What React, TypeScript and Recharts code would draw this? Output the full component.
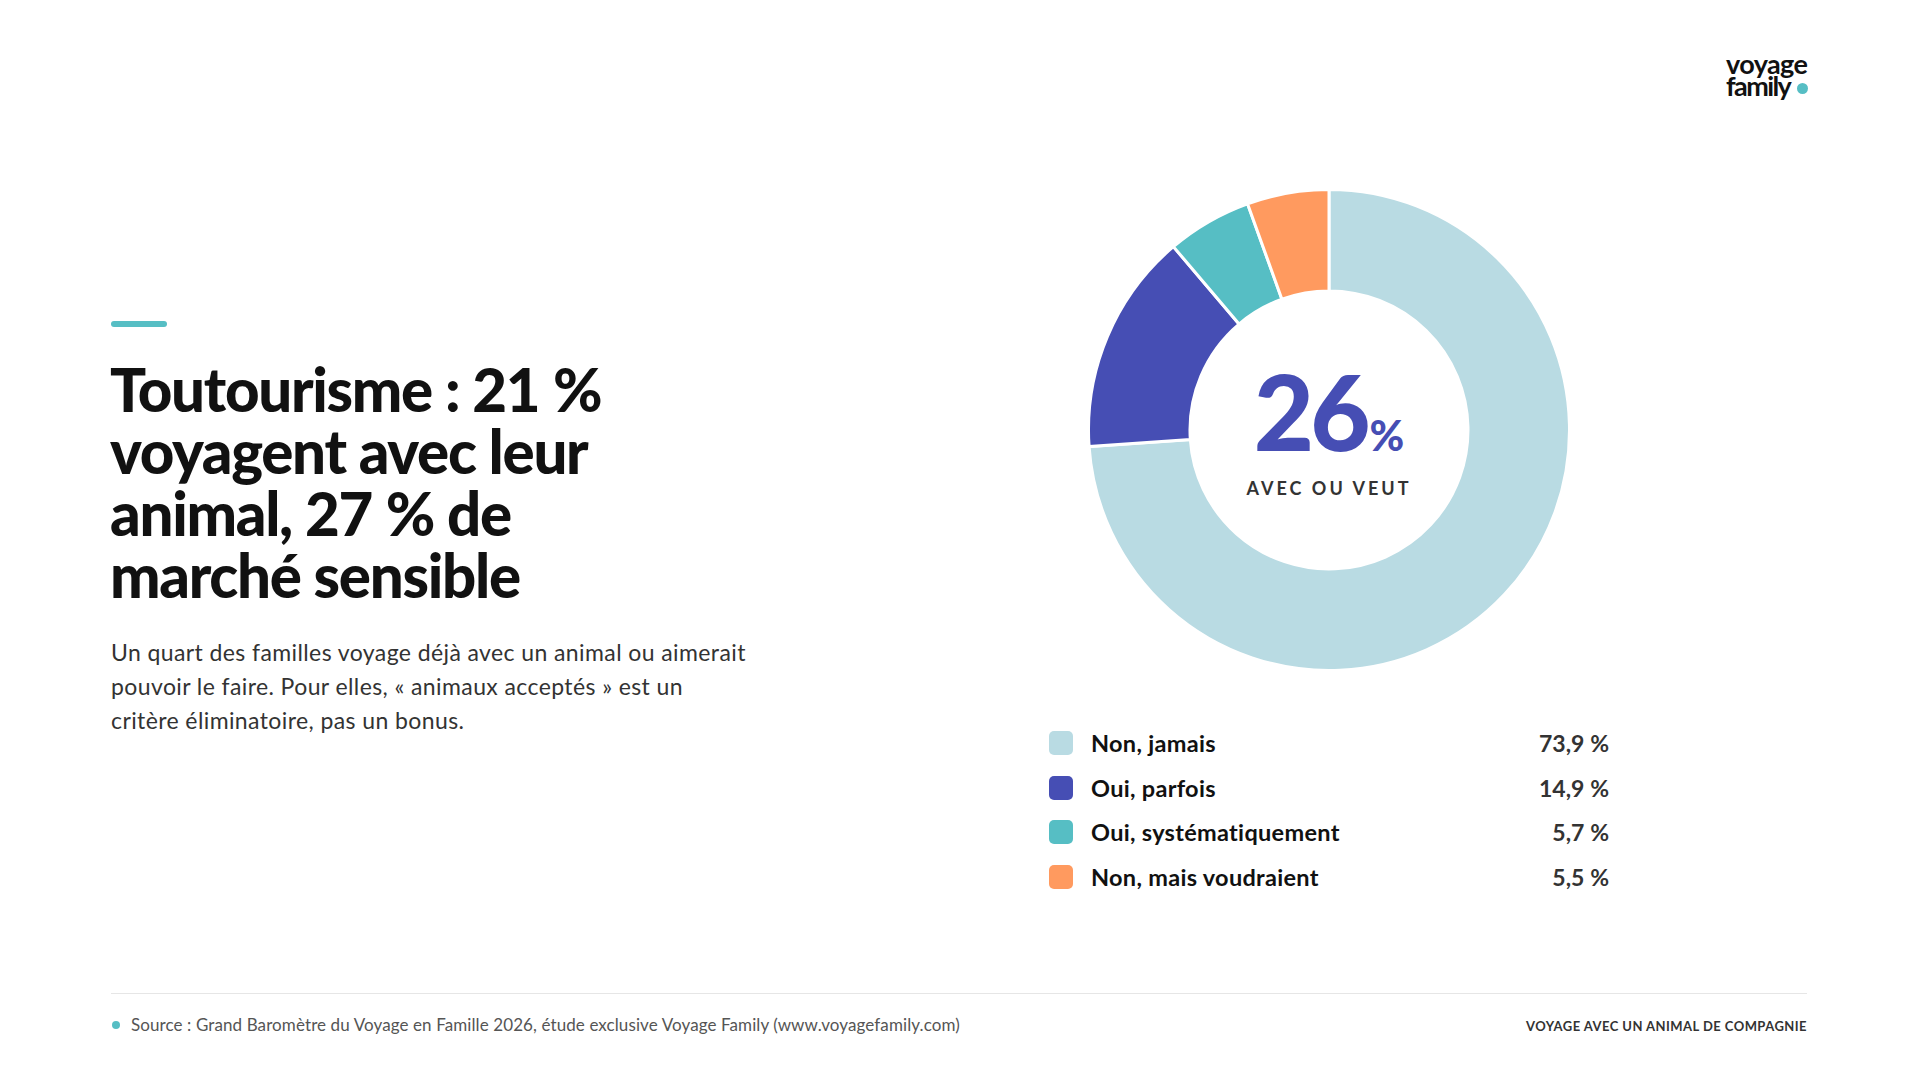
import React from "react";
import { PieChart, Pie, Cell } from "recharts";

const categories = ["Non, jamais", "Oui, parfois", "Oui, systématiquement", "Non, mais voudraient"];
const values = [73.9, 14.9, 5.7, 5.5];
const valueLabels = ["73,9\u202F%", "14,9\u202F%", "5,7\u202F%", "5,5\u202F%"];
const colors = ["#B9DBE3", "#464EB4", "#56BEC4", "#FF9A5F"];
const centerValue = "26";
const centerCaption = "AVEC OU VEUT";
const titleLines = ["Toutourisme\u00A0: 21\u202F%", "voyagent avec leur", "animal, 27\u202F% de", "marché sensible"];
const bodyLines = [
  "Un quart des familles voyage déjà avec un animal ou aimerait",
  "pouvoir le faire. Pour elles, « animaux acceptés » est un",
  "critère éliminatoire, pas un bonus.",
];
const sourceText = "Source : Grand Baromètre du Voyage en Famille 2026, étude exclusive Voyage Family (www.voyagefamily.com)";
const footerRight = "VOYAGE AVEC UN ANIMAL DE COMPAGNIE";

const data = categories.map((name, i) => ({ name, value: values[i] }));

const FONT = "Lato, 'Noto Sans', sans-serif";

export default function App() {
  return (
    <div
      style={{
        position: "absolute",
        left: 0,
        top: 0,
        width: 1920,
        height: 1080,
        background: "#fff",
        fontFamily: FONT,
        overflow: "hidden",
      }}
    >
      {/* Logo */}
      <div
        style={{
          position: "absolute",
          left: 1726,
          top: 53,
          fontSize: 27,
          fontWeight: 700,
          lineHeight: "22px",
          color: "#111",
          letterSpacing: -0.6,
        }}
      >
        <div>voyage</div>
        <div style={{ letterSpacing: -1.6 }}>family</div>
      </div>
      <div
        style={{
          position: "absolute",
          left: 1797,
          top: 83,
          width: 11,
          height: 11,
          borderRadius: 6,
          background: "#56BEC4",
        }}
      />

      {/* Accent bar */}
      <div
        style={{
          position: "absolute",
          left: 111,
          top: 321,
          width: 56,
          height: 6,
          borderRadius: 3,
          background: "#56BEC4",
        }}
      />

      {/* Title */}
      <div
        style={{
          position: "absolute",
          left: 110,
          top: 358,
          fontSize: 60,
          fontWeight: 900,
          lineHeight: "62px",
          color: "#111",
          letterSpacing: -1.3,
          whiteSpace: "nowrap",
        }}
      >
        {titleLines.map((l, i) => (
          <div key={i}>{l}</div>
        ))}
      </div>

      {/* Body */}
      <div
        style={{
          position: "absolute",
          left: 111,
          top: 635,
          fontSize: 23,
          fontWeight: 400,
          lineHeight: "34px",
          letterSpacing: 0.4,
          color: "#333",
          whiteSpace: "nowrap",
        }}
      >
        {bodyLines.map((l, i) => (
          <div key={i}>{l}</div>
        ))}
      </div>

      {/* Donut */}
      <div style={{ position: "absolute", left: 1024, top: 125 }}>
        <PieChart width={600} height={600}>
          <Pie
            data={data}
            dataKey="value"
            nameKey="name"
            cx={300}
            cy={300}
            innerRadius={139}
            outerRadius={240.5}
            startAngle={90}
            endAngle={-270}
            stroke="#fff"
            strokeWidth={3}
            isAnimationActive={false}
          >
            {data.map((d, i) => (
              <Cell key={d.name} fill={colors[i]} />
            ))}
          </Pie>
        </PieChart>
      </div>

      {/* Center label */}
      <div
        style={{
          position: "absolute",
          left: 1129,
          top: 359,
          width: 400,
          textAlign: "center",
          color: "#464EB4",
          fontWeight: 900,
          lineHeight: 1,
        }}
      >
        <span style={{ fontSize: 104, letterSpacing: -4 }}>{centerValue}</span>
        <span style={{ fontSize: 42, marginLeft: 3 }}>%</span>
      </div>
      <div
        style={{
          position: "absolute",
          left: 1129,
          top: 477,
          width: 400,
          textAlign: "center",
          color: "#333",
          fontWeight: 700,
          fontSize: 18,
          letterSpacing: 3,
          lineHeight: "22px",
        }}
      >
        {centerCaption}
      </div>

      {/* Legend */}
      {categories.map((c, i) => (
        <div
          key={c}
          style={{
            position: "absolute",
            left: 1049,
            top: 743 + i * 44.6 - 16,
            width: 560,
            height: 32,
            display: "flex",
            alignItems: "center",
          }}
        >
          <div
            style={{
              width: 24,
              height: 24,
              borderRadius: 5,
              background: colors[i],
              flex: "0 0 auto",
            }}
          />
          <div
            style={{
              marginLeft: 18,
              fontSize: 23.5,
              fontWeight: 700,
              letterSpacing: 0.3,
              color: "#111",
              flex: 1,
            }}
          >
            {c}
          </div>
          <div style={{ fontSize: 23, fontWeight: 700, color: "#333" }}>{valueLabels[i]}</div>
        </div>
      ))}

      {/* Footer */}
      <div
        style={{
          position: "absolute",
          left: 111,
          top: 993,
          width: 1696,
          height: 1,
          background: "#e6e6e6",
        }}
      />
      <div
        style={{
          position: "absolute",
          left: 112,
          top: 1021,
          width: 8,
          height: 8,
          borderRadius: 4,
          background: "#56BEC4",
        }}
      />
      <div
        style={{
          position: "absolute",
          left: 131,
          top: 1014,
          fontSize: 17,
          letterSpacing: 0.1,
          color: "#555",
          lineHeight: "22px",
          whiteSpace: "nowrap",
        }}
      >
        {sourceText}
      </div>
      <div
        style={{
          position: "absolute",
          right: 113,
          top: 1016,
          fontSize: 13,
          fontWeight: 700,
          color: "#333",
          lineHeight: "20px",
          letterSpacing: 0.45,
          whiteSpace: "nowrap",
        }}
      >
        {footerRight}
      </div>
    </div>
  );
}
